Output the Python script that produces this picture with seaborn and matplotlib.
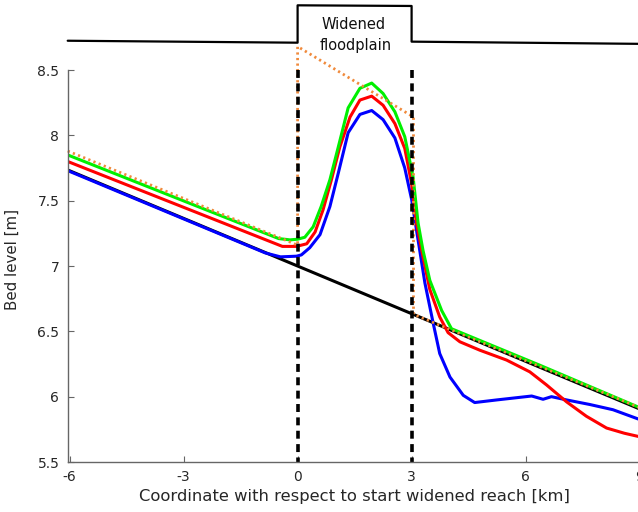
import matplotlib
matplotlib.use("Agg")
import matplotlib.pyplot as plt
import seaborn as sns

# Initial bed (straight line)
x_initial = [-6.05, 9.05]
z_initial = [7.735, 5.90]

# Bed level, case 1 (blue)
x_blue = [-6.05, -0.85, -0.45, -0.03, 0.10, 0.32, 0.59, 0.85, 1.07, 1.33, 1.64,
          1.95, 2.25, 2.56, 2.82, 3.00, 3.17, 3.35, 3.57, 3.74, 4.01, 4.36,
          4.66, 5.24, 6.16, 6.46, 6.68, 7.08, 7.69, 8.30, 9.05]
z_blue = [7.73, 7.10, 7.07, 7.075, 7.085, 7.14, 7.24, 7.455, 7.71, 8.02, 8.16,
          8.19, 8.12, 7.98, 7.75, 7.51, 7.20, 6.87, 6.56, 6.33, 6.15, 6.01,
          5.955, 5.975, 6.005, 5.98, 6.00, 5.975, 5.94, 5.90, 5.82]

# Bed level, case 2 (red)
x_red = [-6.05, -0.40, -0.03, 0.24, 0.46, 0.67, 0.89, 1.11, 1.38, 1.64, 1.95,
         2.25, 2.56, 2.82, 3.00, 3.13, 3.30, 3.48, 3.74, 3.96, 4.27, 4.80,
         5.50, 6.11, 6.55, 7.08, 7.60, 8.13, 8.60, 9.05]
z_red = [7.80, 7.15, 7.15, 7.17, 7.26, 7.43, 7.66, 7.91, 8.14, 8.27, 8.30,
         8.23, 8.09, 7.90, 7.63, 7.33, 7.07, 6.82, 6.61, 6.49, 6.42, 6.355,
         6.28, 6.19, 6.09, 5.96, 5.85, 5.76, 5.72, 5.69]

# Bed level, case 3 (green)
x_green = [-6.05, -0.50, -0.20, 0.00, 0.19, 0.41, 0.62, 0.85, 1.07, 1.33, 1.64,
           1.95, 2.25, 2.56, 2.82, 3.04, 3.17, 3.30, 3.48, 3.79, 4.05, 6.38, 9.05]
z_green = [7.85, 7.21, 7.20, 7.205, 7.22, 7.30, 7.455, 7.66, 7.91, 8.21, 8.36,
           8.40, 8.32, 8.18, 7.99, 7.68, 7.33, 7.12, 6.89, 6.66, 6.52, 6.24, 5.91]

# Equilibrium bed (dotted orange)
x_equil = [-6.05, 0.0, 0.0, 3.05, 3.05, 9.05]
z_equil = [7.88, 7.16, 8.68, 8.14, 6.63, 5.91]

# Plan-view sketch of the reach above the plot
x_sketch = [-6.05, 0.0, 0.0, 3.0, 3.0, 9.05]
z_sketch = [8.724, 8.709, 8.995, 8.99, 8.717, 8.70]

# Boundaries of the widened reach
reach_edges = [0, 3]

x_ticks = [-6, -3, 0, 3, 6, 9]
y_ticks = [5.5, 6, 6.5, 7, 7.5, 8, 8.5]
y_tick_labels = ["5.5", "6", "6.5", "7", "7.5", "8", "8.5"]

sns.set_style("ticks")
plt.rcParams["font.family"] = ["DejaVu Sans"]

fig = plt.figure(figsize=(6.38, 5.12), dpi=100)
ax = fig.add_axes([67.7 / 638, 50 / 512, 573.8 / 638, 392 / 512])

lw = 2.2
sns.lineplot(x=x_initial, y=z_initial, ax=ax, color="black", lw=lw,
             sort=False, estimator=None)
sns.lineplot(x=x_blue, y=z_blue, ax=ax, color="#0000ff", lw=lw,
             sort=False, estimator=None)
sns.lineplot(x=x_red, y=z_red, ax=ax, color="#ff0000", lw=lw,
             sort=False, estimator=None)
sns.lineplot(x=x_green, y=z_green, ax=ax, color="#00f000", lw=lw,
             sort=False, estimator=None)
eq = sns.lineplot(x=x_equil, y=z_equil, ax=ax, color="#f08a3c", lw=2.0,
                  sort=False, estimator=None)
eq.lines[-1].set_linestyle((0, (0.8, 1.2)))
eq.lines[-1].set_clip_on(False)

for xe in reach_edges:
    ax.plot([xe, xe], [8.5, 5.5], color="black", lw=2.6,
            linestyle=(0, (2.2, 1.5)))

sk = sns.lineplot(x=x_sketch, y=z_sketch, ax=ax, color="black", lw=1.6,
                  sort=False, estimator=None)
sk.lines[-1].set_clip_on(False)
ax.text(1.47, 8.845, "Widened", ha="center", va="center", fontsize=10.5,
        color="#111111", clip_on=False)
ax.text(1.53, 8.69, "floodplain", ha="center", va="center", fontsize=10.5,
        color="#111111", clip_on=False)

ax.set_xlim(-6.05, 9.05)
ax.set_ylim(5.5, 8.5)
ax.set_xticks(x_ticks)
ax.set_xticklabels([str(t) for t in x_ticks])
ax.set_yticks(y_ticks)
ax.set_yticklabels(y_tick_labels)
ax.tick_params(direction="in", length=4, width=0.8, colors="#666666",
               labelcolor="#262626", labelsize=10, pad=6)
for side in ("top", "right"):
    ax.spines[side].set_visible(False)
for side in ("left", "bottom"):
    ax.spines[side].set_color("#666666")
    ax.spines[side].set_linewidth(1.0)

ax.set_xlabel("Coordinate with respect to start widened reach [km]",
              fontsize=11.8, color="#262626", labelpad=3)
ax.set_ylabel("Bed level [m]", fontsize=10.8, color="#262626")
ax.yaxis.set_label_coords(-0.083, 0.518)

fig.savefig("out.png", dpi=100)
